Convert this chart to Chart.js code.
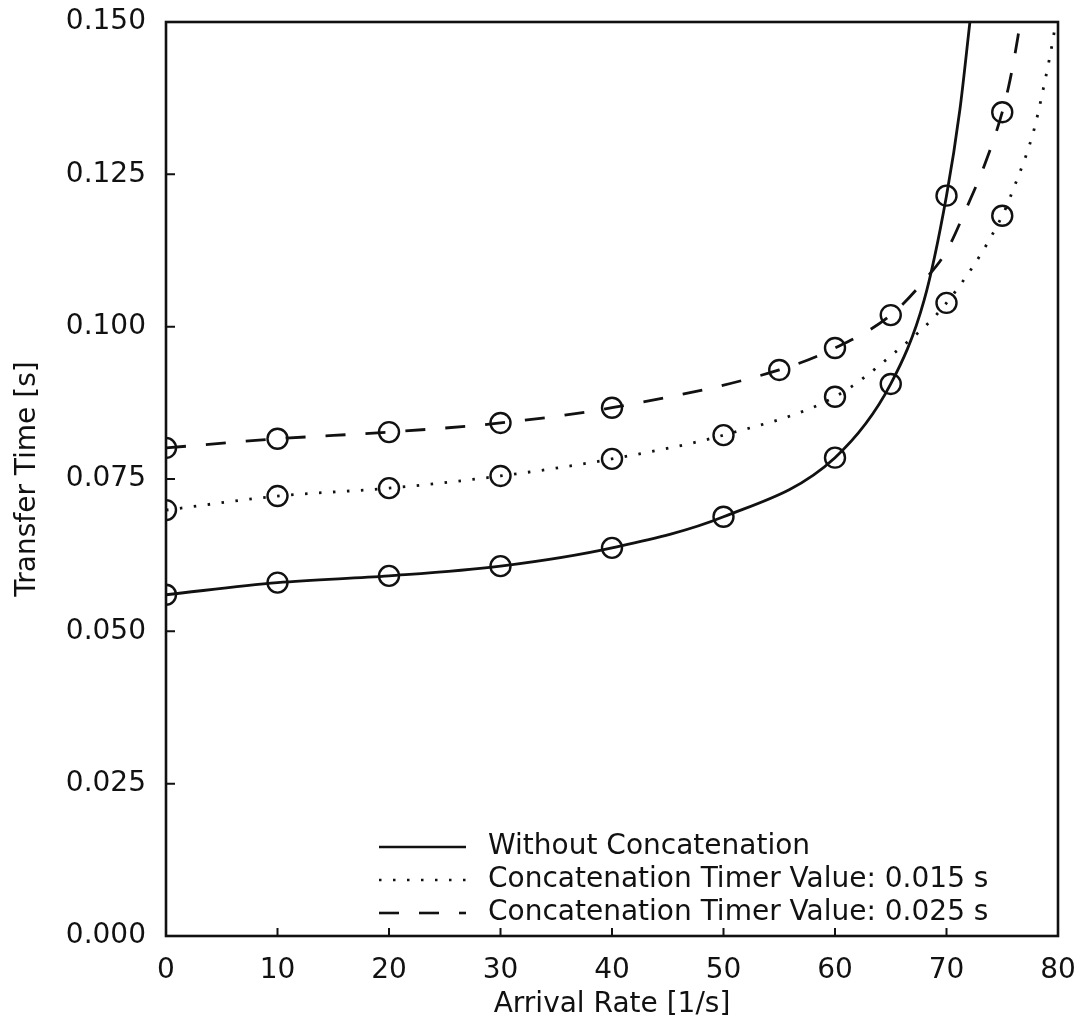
<!DOCTYPE html>
<html>
<head>
<meta charset="utf-8">
<script src="https://cdn.jsdelivr.net/npm/chart.js@4.4.0/dist/chart.umd.min.js"></script>
<style>
  html, body { margin: 0; padding: 0; background: #fff; }
  #wrap { width: 1083px; height: 1023px; position: relative; }
</style>
</head>
<body>
<div id="wrap"><canvas id="myChart"></canvas></div>
<script>
// curve points (arrival rate, transfer time)
const solidX = [0, 10, 20, 30, 40, 50, 60, 65, 68, 70, 71.2, 72.1];
const solidY = [0.0560, 0.0580, 0.0591, 0.0607, 0.0637, 0.0688, 0.0785, 0.0906, 0.1044, 0.1215, 0.1356, 0.1500];
const dotX = [0, 10, 20, 30, 40, 50, 60, 65, 70, 75, 76, 77.8, 78.7, 79.5, 79.8];
const dotY = [0.0699, 0.0722, 0.0735, 0.0755, 0.0783, 0.0822, 0.0885, 0.0952, 0.1039, 0.1182, 0.1226, 0.1320, 0.1392, 0.1466, 0.1500];
const dashX = [0, 10, 20, 30, 40, 55, 60, 65, 68.2, 70, 71.8, 73.3, 75, 75.7, 76.4, 76.6];
const dashY = [0.0801, 0.0816, 0.0827, 0.0842, 0.0867, 0.0929, 0.0965, 0.1019, 0.1080, 0.1124, 0.1195, 0.1260, 0.1352, 0.1405, 0.1475, 0.1500];

// circle markers
const solidMarkX = [0, 10, 20, 30, 40, 50, 60, 65, 70];
const solidMarkY = [0.0560, 0.0580, 0.0591, 0.0607, 0.0637, 0.0688, 0.0785, 0.0906, 0.1215];
const dotMarkX = [0, 10, 20, 30, 40, 50, 60, 70, 75];
const dotMarkY = [0.0699, 0.0722, 0.0735, 0.0755, 0.0783, 0.0822, 0.0885, 0.1039, 0.1182];
const dashMarkX = [0, 10, 20, 30, 40, 55, 60, 65, 75];
const dashMarkY = [0.0801, 0.0816, 0.0827, 0.0842, 0.0867, 0.0929, 0.0965, 0.1019, 0.1352];

const legendLabels = ['Without Concatenation', 'Concatenation Timer Value: 0.015 s', 'Concatenation Timer Value: 0.025 s'];
const xTitle = 'Arrival Rate [1/s]';
const yTitle = 'Transfer Time [s]';

const INK = '#111';
const FONT = '"DejaVu Sans", "Liberation Sans", sans-serif';
const DOTS = [2.5, 11.5];
const DASHES = [20, 20];

const pts = (xs, ys) => xs.map((v, i) => ({ x: v, y: ys[i] }));

const curve = (xs, ys, dash) => ({
    type: 'line',
    data: pts(xs, ys),
    borderColor: INK,
    borderWidth: 2.8,
    borderDash: dash,
    cubicInterpolationMode: 'monotone',
    pointRadius: 0,
    fill: false
});

const marks = (xs, ys) => ({
    type: 'scatter',
    data: pts(xs, ys),
    showLine: false,
    pointStyle: 'circle',
    pointRadius: 10,
    pointBorderWidth: 2.4,
    pointBorderColor: INK,
    pointBackgroundColor: 'rgba(0,0,0,0)',
    clip: 0
});

const framePlugin = {
    id: 'frame',
    afterDraw(chart) {
        const { ctx, chartArea: a, scales: { x, y } } = chart;
        ctx.save();
        ctx.strokeStyle = INK;
        ctx.lineWidth = 2.6;
        ctx.setLineDash([]);
        ctx.strokeRect(a.left, a.top, a.right - a.left, a.bottom - a.top);

        // inward tick marks
        ctx.lineWidth = 2;
        ctx.beginPath();
        x.ticks.forEach(t => {
            if (t.value <= x.min || t.value >= x.max) return;
            const px = x.getPixelForValue(t.value);
            ctx.moveTo(px, a.bottom);
            ctx.lineTo(px, a.bottom - 8);
        });
        y.ticks.forEach(t => {
            if (t.value <= y.min + 1e-9 || t.value >= y.max - 1e-9) return;
            const py = y.getPixelForValue(t.value);
            ctx.moveTo(a.left, py);
            ctx.lineTo(a.left + 9, py);
        });
        ctx.stroke();

        // legend in the lower right corner
        const styles = [[], DOTS, DASHES];
        const lx0 = a.left + 213, lx1 = a.left + 300, tx = a.left + 322;
        const rows = [a.bottom - 89, a.bottom - 56, a.bottom - 23];
        ctx.font = '28px ' + FONT;
        ctx.fillStyle = INK;
        ctx.textBaseline = 'middle';
        ctx.textAlign = 'left';
        legendLabels.forEach((lab, i) => {
            ctx.setLineDash(styles[i]);
            ctx.lineWidth = 2.6;
            ctx.beginPath();
            ctx.moveTo(lx0, rows[i]);
            ctx.lineTo(lx1, rows[i]);
            ctx.stroke();
            ctx.setLineDash([]);
            ctx.fillText(lab, tx, rows[i]);
        });
        ctx.restore();
    }
};

window.onload = () => {
    const ctx = document.getElementById('myChart');

    new Chart(ctx, {
        data: {
            datasets: [
                curve(solidX, solidY, []),
                curve(dotX, dotY, DOTS),
                curve(dashX, dashY, DASHES),
                marks(solidMarkX, solidMarkY),
                marks(dotMarkX, dotMarkY),
                marks(dashMarkX, dashMarkY)
            ]
        },
        options: {
            responsive: true,
            maintainAspectRatio: false,
            animation: false,
            layout: { padding: { top: 22, right: 25, left: 0, bottom: 0 } },
            plugins: {
                legend: { display: false },
                tooltip: { enabled: false }
            },
            scales: {
                x: {
                    type: 'linear',
                    min: 0,
                    max: 80,
                    grid: { display: false },
                    border: { display: false },
                    ticks: {
                        stepSize: 10,
                        color: INK,
                        padding: 10,
                        font: { family: FONT, size: 28 },
                        maxRotation: 0
                    },
                    title: {
                        display: true,
                        text: xTitle,
                        color: INK,
                        font: { family: FONT, size: 28 },
                        padding: { top: 0, bottom: 1 }
                    },
                    afterFit: s => {
                        s.height = 87;
                        s.paddingLeft = 0;
                        s.paddingRight = 0;
                    }
                },
                y: {
                    type: 'linear',
                    min: 0,
                    max: 0.15,
                    grid: { display: false },
                    border: { display: false },
                    ticks: {
                        stepSize: 0.025,
                        color: INK,
                        padding: 12,
                        font: { family: FONT, size: 28 },
                        callback: v => v.toFixed(3)
                    },
                    title: {
                        display: true,
                        text: yTitle,
                        color: INK,
                        font: { family: FONT, size: 28 },
                        padding: { top: 11, bottom: 0 }
                    },
                    afterFit: s => {
                        s.width = 166;
                        s.paddingTop = 0;
                        s.paddingBottom = 0;
                    }
                }
            }
        },
        plugins: [framePlugin]
    });
};
</script>
</body>
</html>
